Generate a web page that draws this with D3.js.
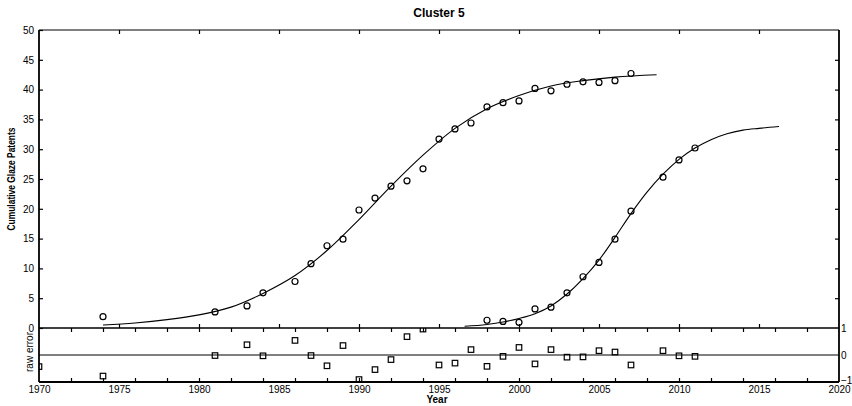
<!DOCTYPE html>
<html>
<head>
<meta charset="utf-8">
<title>Cluster 5</title>
<script src="https://cdn.jsdelivr.net/npm/d3@7"></script>
<style>
body { margin: 0; background: #fff; }
text { font-family: "Liberation Sans", Arial, sans-serif; fill: #000; }
</style>
</head>
<body>
<script>
// observed cumulative patents, first wave
var years1 = [1974,1981,1983,1984,1986,1987,1988,1989,1990,1991,1992,1993,1994,1995,1996,1997,1998,1999,2000,2001,2002,2003,2004,2005,2006,2007];
var patents1 = [1.9,2.7,3.7,5.9,7.8,10.8,13.8,14.9,19.8,21.8,23.8,24.7,26.7,31.7,33.4,34.4,37.1,37.8,38.1,40.2,39.8,40.9,41.3,41.2,41.5,42.7];
// second wave
var years2 = [1998,1999,2000,2001,2002,2003,2004,2005,2006,2007,2009,2010,2011];
var patents2 = [1.3,1.1,0.95,3.2,3.5,5.9,8.6,11.0,14.9,19.6,25.3,28.2,30.2];

// fitted curves
var fitYears1 = [1974,1976,1978,1980,1982,1984,1986,1988,1990,1992,1994,1996,1998,2000,2002,2004,2006,2008.6];
var fit1 = [0.5,0.85,1.4,2.2,3.5,5.8,8.8,13.0,18.2,23.8,29.0,33.5,36.8,39.0,40.6,41.5,42.1,42.5];
var fitYears2 = [1996.6,1998,1999,2000,2001,2002,2003,2004,2005,2006,2007,2008,2009,2010,2011,2012,2013,2014,2015,2016.25];
var fit2 = [0.3,0.6,1.0,1.6,2.4,3.7,5.7,8.3,11.4,15.2,19.2,22.8,25.8,28.3,30.2,31.6,32.6,33.2,33.5,33.8];

// raw error
var resYears = [1970,1974,1981,1983,1984,1986,1987,1988,1989,1990,1991,1992,1993,1994,1995,1996,1997,1998,1999,2000,2001,2002,2003,2004,2005,2006,2007,2009,2010,2011];
var resVals = [-0.43,-0.78,-0.02,0.38,-0.03,0.54,-0.02,-0.4,0.35,-0.91,-0.54,-0.17,0.68,0.96,-0.37,-0.3,0.2,-0.42,-0.05,0.28,-0.33,0.2,-0.08,-0.07,0.16,0.11,-0.37,0.16,-0.03,-0.05];

var yLabels = [0,5,10,15,20,25,30,35,40,45,50];
var xLabels = [1970,1975,1980,1985,1990,1995,2000,2005,2010,2015,2020];
var resLabels = [1,0,-1];

var w = 852, h = 406;
var pLeft = 39, pRight = 839, pTop = 30, pMid = 328, pBottom = 382;

var svg = d3.select("body").append("svg")
    .attr("width", w)
    .attr("height", h);

var x = d3.scaleLinear().domain([1970, 2020]).range([pLeft, pRight]);
var y = d3.scaleLinear().domain([0, 50]).range([pMid, pTop]);
var yr = d3.scaleLinear().domain([-1, 1]).range([pBottom, pMid]);

var fiveYears = d3.range(1975, 2020, 5);
var twoYears = d3.range(1972, 2020, 2);

function clean(g) {
  g.select(".domain").remove();
  g.selectAll(".tick line").attr("stroke", "#000").attr("stroke-width", 1.2);
  g.selectAll(".tick text").attr("font-size", 10).attr("font-family", null).attr("fill", "#000");
}

// top panel ticks
svg.append("g").attr("transform", "translate(" + pLeft + ",0)")
  .call(d3.axisLeft(y).tickValues(yLabels).tickSize(-4).tickPadding(5)).call(clean);
svg.append("g").attr("transform", "translate(" + pRight + ",0)")
  .call(d3.axisRight(y).tickValues(yLabels.slice(1, -1)).tickSize(-4).tickFormat("")).call(clean);
svg.append("g").attr("transform", "translate(0," + pTop + ")")
  .call(d3.axisTop(x).tickValues(fiveYears).tickSize(-4).tickFormat("")).call(clean);
svg.append("g").attr("transform", "translate(0," + pMid + ")")
  .call(d3.axisBottom(x).tickValues(fiveYears).tickSize(-4).tickFormat("")).call(clean);

// bottom panel ticks
svg.append("g").attr("transform", "translate(0," + pMid + ")")
  .call(d3.axisTop(x).tickValues(twoYears).tickSize(-4).tickFormat("")).call(clean);
svg.append("g").attr("transform", "translate(0," + pBottom + ")")
  .call(d3.axisBottom(x).tickValues(twoYears).tickSize(-4).tickFormat("")).call(clean);
svg.append("g").attr("transform", "translate(0," + pBottom + ")")
  .call(d3.axisBottom(x).tickValues(xLabels).tickSize(0).tickPadding(4).tickFormat(d3.format("d"))).call(clean);
var resAxis = svg.append("g").attr("transform", "translate(" + pRight + ",0)")
  .call(d3.axisRight(yr).tickValues(resLabels).tickSize(0).tickPadding(2).tickFormat(d3.format("d"))).call(clean);
resAxis.selectAll(".tick text").filter(function(d) { return d === -1; }).attr("dy", "0.1em");

// zero line of raw error
svg.append("line")
  .attr("x1", pLeft).attr("x2", pRight)
  .attr("y1", yr(0)).attr("y2", yr(0))
  .attr("stroke", "#000").attr("stroke-width", 1);

// frame
svg.append("line").attr("x1", pLeft).attr("x2", pRight).attr("y1", pTop).attr("y2", pTop)
  .attr("stroke", "#000").attr("stroke-width", 1.2);
svg.append("line").attr("x1", pLeft).attr("x2", pRight).attr("y1", pMid).attr("y2", pMid)
  .attr("stroke", "#000").attr("stroke-width", 1.3);
svg.append("line").attr("x1", pLeft).attr("x2", pRight).attr("y1", pBottom).attr("y2", pBottom)
  .attr("stroke", "#000").attr("stroke-width", 1.8);
svg.append("line").attr("x1", pLeft).attr("x2", pLeft).attr("y1", pTop).attr("y2", pBottom)
  .attr("stroke", "#000").attr("stroke-width", 1.8);
svg.append("line").attr("x1", pRight).attr("x2", pRight).attr("y1", pTop).attr("y2", pBottom)
  .attr("stroke", "#000").attr("stroke-width", 1.8);

// fitted curves
var line = d3.line()
    .x(function(d) { return x(d[0]); })
    .y(function(d) { return y(d[1]); })
    .curve(d3.curveMonotoneX);

svg.append("path")
  .attr("d", line(d3.zip(fitYears1, fit1)))
  .attr("fill", "none").attr("stroke", "#000").attr("stroke-width", 1.1);
svg.append("path")
  .attr("d", line(d3.zip(fitYears2, fit2)))
  .attr("fill", "none").attr("stroke", "#000").attr("stroke-width", 1.1);

// observed points
var pts = d3.zip(years1, patents1).concat(d3.zip(years2, patents2));
svg.selectAll("circle.obs")
    .data(pts)
    .enter()
    .append("circle")
    .attr("class", "obs")
    .attr("r", 3)
    .attr("cx", function(d) { return x(d[0]); })
    .attr("cy", function(d) { return y(d[1]); })
    .attr("fill", "none")
    .attr("stroke", "#000")
    .attr("stroke-width", 1.2);

// raw error squares, clipped to the lower panel
svg.append("clipPath").attr("id", "resclip")
  .append("rect").attr("x", pLeft).attr("y", pMid).attr("width", pRight - pLeft).attr("height", pBottom - pMid);

var sq = 5.5;
svg.append("g").attr("clip-path", "url(#resclip)")
  .selectAll("rect")
  .data(d3.zip(resYears, resVals))
  .enter()
  .append("rect")
  .attr("x", function(d) { return x(d[0]) - sq / 2; })
  .attr("y", function(d) { return yr(d[1]) - sq / 2; })
  .attr("width", sq).attr("height", sq)
  .attr("fill", "none")
  .attr("stroke", "#000")
  .attr("stroke-width", 1.2);

// labels
svg.append("text")
  .attr("x", (pLeft + pRight) / 2).attr("y", 17)
  .attr("text-anchor", "middle")
  .attr("font-size", 12).attr("font-weight", "bold")
  .text("Cluster 5");

svg.append("text")
  .attr("x", (pLeft + pRight) / 2 - 2).attr("y", 403)
  .attr("text-anchor", "middle")
  .attr("font-size", 10).attr("font-weight", "bold")
  .text("Year");

svg.append("text")
  .attr("transform", "translate(15,179) rotate(-90)")
  .attr("text-anchor", "middle")
  .attr("font-size", 10).attr("font-weight", "bold")
  .attr("textLength", 103).attr("lengthAdjust", "spacingAndGlyphs")
  .text("Cumulative Glaze Patents");

svg.append("text")
  .attr("transform", "translate(33,352) rotate(-90)")
  .attr("text-anchor", "middle")
  .attr("font-size", 10)
  .text("raw error");
</script>
</body>
</html>
